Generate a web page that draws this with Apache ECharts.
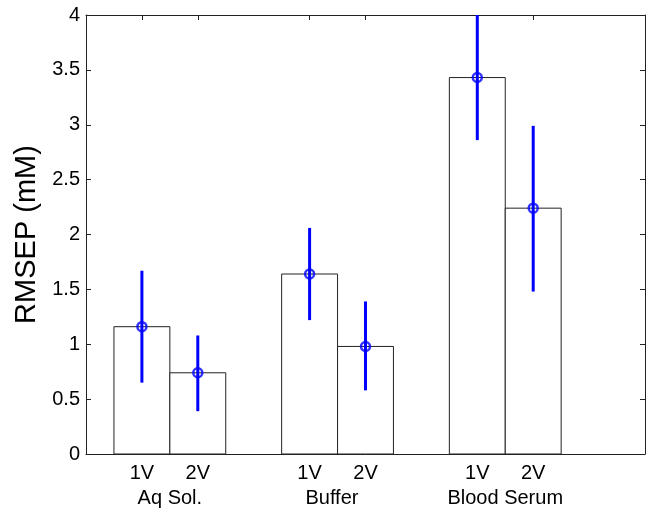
<!DOCTYPE html>
<html>
<head>
<meta charset="utf-8">
<script src="https://cdn.jsdelivr.net/npm/echarts@6/dist/echarts.min.js"></script>
<style>
  html, body { margin: 0; padding: 0; background: #fff; }
  #chart { width: 647px; height: 509px; }
</style>
</head>
<body>
<div id="chart"></div>
<script>
// bar positions on the x axis and their labels
const positions = [1, 2, 4, 5, 7, 8];
const barLabels = ["1V", "2V", "1V", "2V", "1V", "2V"];
const groupPositions = [1.5, 4.4, 7.5];
const groupLabels = ["Aq Sol.", "Buffer", "Blood Serum"];

// RMSEP values (mM) with error bar limits
const rmsep = [1.16, 0.74, 1.64, 0.98, 3.43, 2.24];
const errLow = [0.65, 0.39, 1.22, 0.58, 2.86, 1.48];
const errHigh = [1.67, 1.08, 2.06, 1.39, 4.0, 2.99];

const FONT = "Liberation Sans";

const barData = positions.map((p, i) => [p, rmsep[i]]);
const errData = positions.map((p, i) => [p, errLow[i], errHigh[i]]);

function labelAt(values, labels) {
  return function (v) {
    const i = values.findIndex((x) => Math.abs(x - v) < 1e-6);
    return i >= 0 ? labels[i] : "";
  };
}

const chart = echarts.init(document.getElementById("chart"));

const option = {
  animation: false,
  backgroundColor: "#fff",
  grid: { left: 86, right: 2, top: 15, bottom: 55, containLabel: false, outerBoundsMode: "none" },
  xAxis: [
    {
      type: "value",
      min: 0,
      max: 10,
      interval: 1,
      position: "bottom",
      axisLine: { show: true, onZero: false, lineStyle: { color: "#222", width: 1 } },
      axisTick: { show: false },
      splitLine: { show: false },
      axisLabel: {
        customValues: positions,
        formatter: labelAt(positions, barLabels),
        margin: 9,
        color: "#000",
        fontFamily: FONT,
        fontSize: 20,
      },
    },
    {
      type: "value",
      min: 0,
      max: 10,
      position: "bottom",
      offset: 25,
      axisLine: { show: false },
      axisTick: { show: false },
      splitLine: { show: false },
      axisLabel: {
        customValues: groupPositions,
        formatter: labelAt(groupPositions, groupLabels),
        margin: 9,
        color: "#000",
        fontFamily: FONT,
        fontSize: 20,
      },
    },
    {
      type: "value",
      min: 0,
      max: 10,
      position: "top",
      axisLine: { show: true, onZero: false, lineStyle: { color: "#222", width: 1 } },
      axisTick: { show: true, inside: true, length: 5, customValues: positions, lineStyle: { color: "#222" } },
      axisLabel: { show: false },
      splitLine: { show: false },
    },
  ],
  yAxis: [
    {
      type: "value",
      min: 0,
      max: 4,
      interval: 0.5,
      position: "left",
      name: "RMSEP (mM)",
      nameLocation: "middle",
      nameGap: 44,
      nameTextStyle: { color: "#000", fontFamily: FONT, fontSize: 29 },
      axisLine: { show: true, onZero: false, lineStyle: { color: "#222", width: 1 } },
      axisTick: { show: true, inside: true, length: 5, lineStyle: { color: "#222" } },
      splitLine: { show: false },
      axisLabel: {
        margin: 6,
        color: "#000",
        fontFamily: FONT,
        fontSize: 20,
        formatter: (v) => String(v),
      },
    },
    {
      type: "value",
      min: 0,
      max: 4,
      interval: 0.5,
      position: "right",
      axisLine: { show: true, onZero: false, lineStyle: { color: "#222", width: 1 } },
      axisTick: { show: true, inside: true, length: 5, lineStyle: { color: "#222" } },
      splitLine: { show: false },
      axisLabel: { show: false },
    },
  ],
  series: [
    {
      name: "bars",
      type: "custom",
      xAxisIndex: 0,
      yAxisIndex: 0,
      data: barData,
      z: 2,
      renderItem: function (params, api) {
        const x = api.value(0);
        const h = api.value(1);
        const p0 = api.coord([x - 0.5, h]);
        const p1 = api.coord([x + 0.5, 0]);
        return {
          type: "rect",
          shape: { x: p0[0], y: p0[1], width: p1[0] - p0[0], height: p1[1] - p0[1] },
          style: { fill: "#fff", stroke: "#222", lineWidth: 1 },
        };
      },
    },
    {
      name: "error",
      type: "custom",
      xAxisIndex: 0,
      yAxisIndex: 0,
      data: errData,
      z: 3,
      clip: true,
      renderItem: function (params, api) {
        const x = api.value(0);
        const lo = api.coord([x, api.value(1)]);
        const hi = api.coord([x, api.value(2)]);
        return {
          type: "line",
          shape: { x1: lo[0], y1: lo[1], x2: hi[0], y2: hi[1] },
          style: { stroke: "#0000ff", lineWidth: 3 },
        };
      },
    },
    {
      name: "RMSEP",
      type: "scatter",
      xAxisIndex: 0,
      yAxisIndex: 0,
      data: barData,
      z: 4,
      symbol: "circle",
      symbolSize: 9,
      itemStyle: { color: "rgba(0,0,0,0)", borderColor: "#0000ff", borderWidth: 2.5 },
    },
  ],
};

chart.setOption(option);
</script>
</body>
</html>
